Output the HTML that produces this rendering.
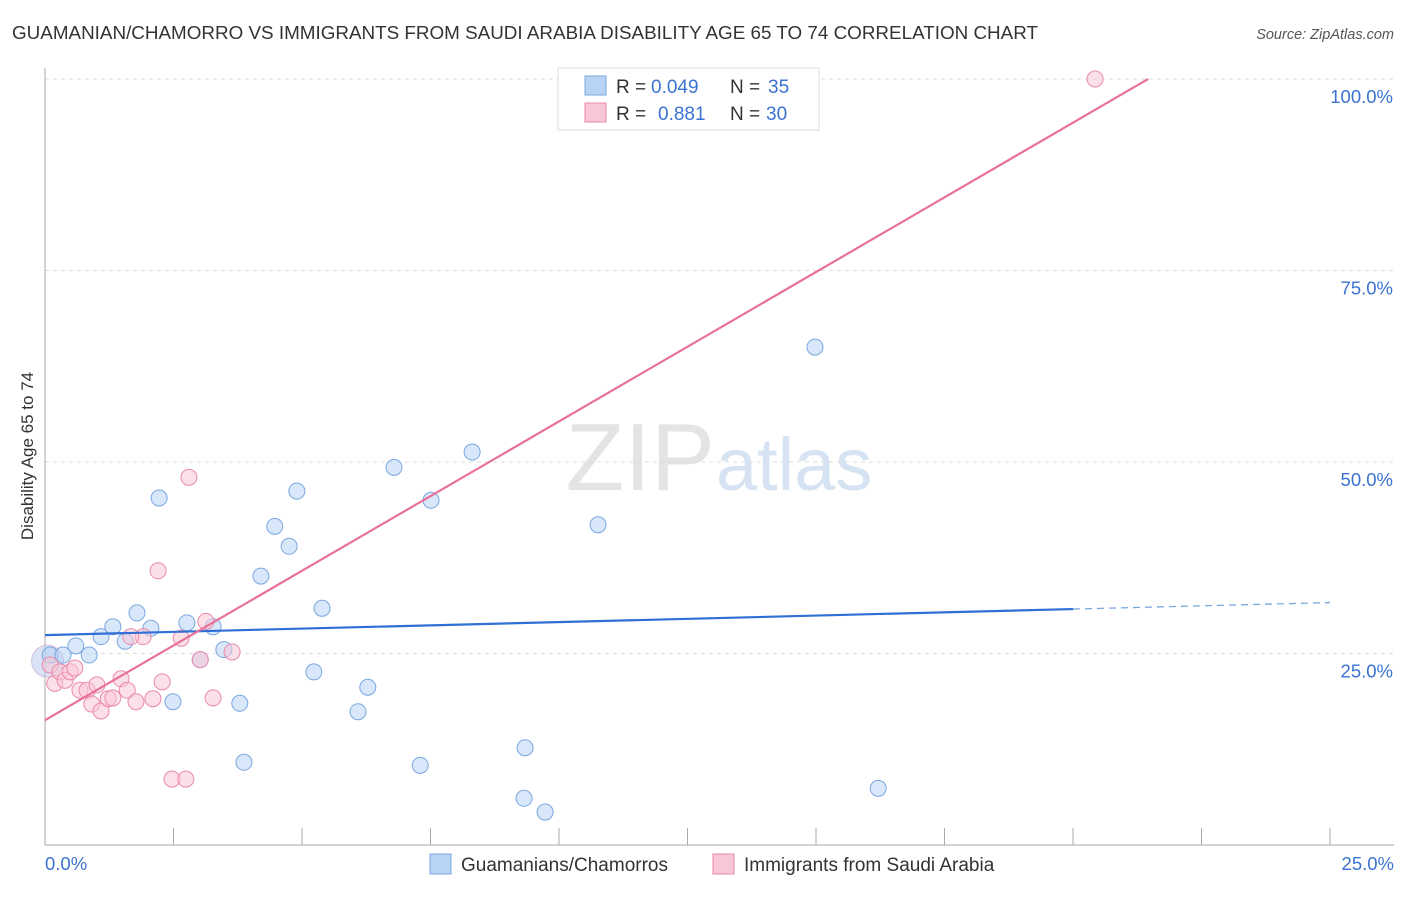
<!DOCTYPE html>
<html><head><meta charset="utf-8"><style>
body{margin:0;background:#fff;font-family:"Liberation Sans",sans-serif;}
svg text{font-family:"Liberation Sans",sans-serif;}
</style></head><body>
<svg id="chart" width="1406" height="892" xmlns="http://www.w3.org/2000/svg">
<text x="12" y="39" font-size="18" fill="#333" textLength="1026" lengthAdjust="spacingAndGlyphs">GUAMANIAN/CHAMORRO VS IMMIGRANTS FROM SAUDI ARABIA DISABILITY AGE 65 TO 74 CORRELATION CHART</text>
<text x="1394" y="39" font-size="14.5" fill="#555" text-anchor="end" font-style="italic">Source: ZipAtlas.com</text>
<text x="715" y="490" font-size="96" fill="#e4e4e4" text-anchor="end" font-family="Liberation Serif">ZIP</text>
<text x="716" y="490" font-size="74" fill="#d5e3f3">atlas</text>
<g id="grid"></g>
<g id="axes"></g>
<g id="marks"></g>
<text transform="translate(33,456) rotate(-90)" font-size="17" fill="#333" text-anchor="middle">Disability Age 65 to 74</text>
<g>
<rect x="558" y="68" width="261" height="62" fill="#fff" stroke="#ddd"/>
<rect x="585" y="76" width="21" height="19" fill="#b8d4f5" stroke="#7aa7e0"/>
<text x="616" y="93" font-size="19" fill="#333">R =</text>
<text x="651" y="93" font-size="19" fill="#3b73d1">0.049</text>
<text x="730" y="93" font-size="19" fill="#333">N =</text>
<text x="768" y="93" font-size="19" fill="#3b73d1">35</text>
<rect x="585" y="103" width="21" height="19" fill="#f9c6d6" stroke="#e98aaa"/>
<text x="616" y="120" font-size="19" fill="#333">R =</text>
<text x="658" y="120" font-size="19" fill="#3b73d1">0.881</text>
<text x="730" y="120" font-size="19" fill="#333">N =</text>
<text x="766" y="120" font-size="19" fill="#3b73d1">30</text>
</g>
<g>
<rect x="430" y="854" width="21" height="20" fill="#b8d4f5" stroke="#7aa7e0"/>
<text x="461" y="871" font-size="19" fill="#333">Guamanians/Chamorros</text>
<rect x="713" y="854" width="21" height="20" fill="#f9c6d6" stroke="#e98aaa"/>
<text x="744" y="871" font-size="19" fill="#333">Immigrants from Saudi Arabia</text>
</g>
</svg>
<script>
const blueX=[0.10,0.35,0.60,0.86,1.09,1.32,1.56,1.79,2.06,2.22,2.49,2.76,3.02,3.27,3.48,3.79,3.87,4.20,4.47,4.75,4.90,5.23,5.39,6.09,6.28,6.79,7.30,7.51,8.31,9.34,9.32,9.73,10.76,14.98,16.21];
const blueY=[24.8,24.8,26.0,24.8,27.2,28.5,26.6,30.3,28.3,45.3,18.7,29.0,24.2,28.5,25.5,18.5,10.8,35.1,41.6,39.0,46.2,22.6,30.9,17.4,20.6,49.3,10.4,45.0,51.3,12.7,6.1,4.3,41.8,65.0,7.4];
const pinkX=[0.10,0.19,0.29,0.39,0.49,0.58,0.68,0.82,0.91,1.01,1.09,1.23,1.32,1.48,1.60,1.77,1.91,1.67,2.10,2.20,2.28,2.47,2.65,2.74,2.80,3.02,3.13,3.27,3.64,20.43];
const pinkY=[23.5,21.1,22.6,21.5,22.6,23.1,20.2,20.2,18.4,20.9,17.5,19.1,19.2,21.7,20.2,18.7,27.2,27.2,19.1,35.8,21.3,8.6,27.0,8.6,48.0,24.2,29.2,19.2,25.2,100.0];
const blueTrend=[27.4,30.8];
const pinkTrend=[16.3,3.9];
const yTicks=[25,50,75,100];
const xTickLabels=["0.0%","25.0%"];
const NS="http://www.w3.org/2000/svg";
const xs=v=>45+v*51.4, ys=v=>845-v*7.66;
function mk(tag,attrs,parent){const e=document.createElementNS(NS,tag);for(const k in attrs)e.setAttribute(k,attrs[k]);document.getElementById(parent).appendChild(e);return e;}
yTicks.forEach(t=>{
 const l=mk('line',{x1:45,x2:1394,y1:ys(t),y2:ys(t),stroke:'#ddd','stroke-dasharray':'4,4'},'grid');
 
 
 const tx=mk('text',{x:1393,y:ys(t)+24,'font-size':18.5,fill:'#3b73d1','text-anchor':'end'},'axes');tx.textContent=t.toFixed(1)+'%';
 
 
});
mk('line',{x1:45,x2:45,y1:68,y2:845,stroke:'#aaa'},'axes');
mk('line',{x1:45,x2:1394,y1:845,y2:845,stroke:'#aaa'},'axes');
for(let i=0;i<=10;i++){const l=mk('line',{x1:xs(i*2.5),x2:xs(i*2.5),y1:828,y2:845,stroke:'#aaa'},'axes');
 
 }
const t0=mk('text',{x:45,y:870,'font-size':18.5,fill:'#3b73d1'},'axes');t0.textContent=xTickLabels[0];


const t1=mk('text',{x:1394,y:870,'font-size':18.5,fill:'#3b73d1','text-anchor':'end'},'axes');t1.textContent=xTickLabels[1];


const big=mk('circle',{cx:xs(0.05),cy:ys(24),r:16,fill:'rgba(184,200,240,0.5)',stroke:'rgba(200,160,200,0.6)'},'marks');


blueX.forEach((x,i)=>{const c=mk('circle',{cx:xs(x),cy:ys(blueY[i]),r:8,fill:'rgba(184,212,245,0.55)',stroke:'#7aa7e0','stroke-width':1},'marks');
 
 });
pinkX.forEach((x,i)=>{const c=mk('circle',{cx:xs(x),cy:ys(pinkY[i]),r:8,fill:'rgba(249,198,214,0.55)',stroke:'#e98aaa','stroke-width':1},'marks');
 
 });
const bl=mk('line',{x1:xs(0),y1:ys(blueTrend[0]),x2:xs(20),y2:ys(blueTrend[1]),stroke:'#2f6fd6','stroke-width':2.2},'marks');


const bslope=(blueTrend[1]-blueTrend[0])/20;
const bd=mk('line',{x1:xs(20),y1:ys(blueTrend[1]),x2:xs(25),y2:ys(blueTrend[1]+5*bslope),stroke:'#7aa7e0','stroke-width':1.3,'stroke-dasharray':'7,5'},'marks');


const xEnd=(100-pinkTrend[0])/pinkTrend[1];
const pl=mk('line',{x1:xs(0),y1:ys(pinkTrend[0]),x2:xs(xEnd),y2:ys(100),stroke:'#e8719a','stroke-width':2.2},'marks');


</script>
</body></html>
